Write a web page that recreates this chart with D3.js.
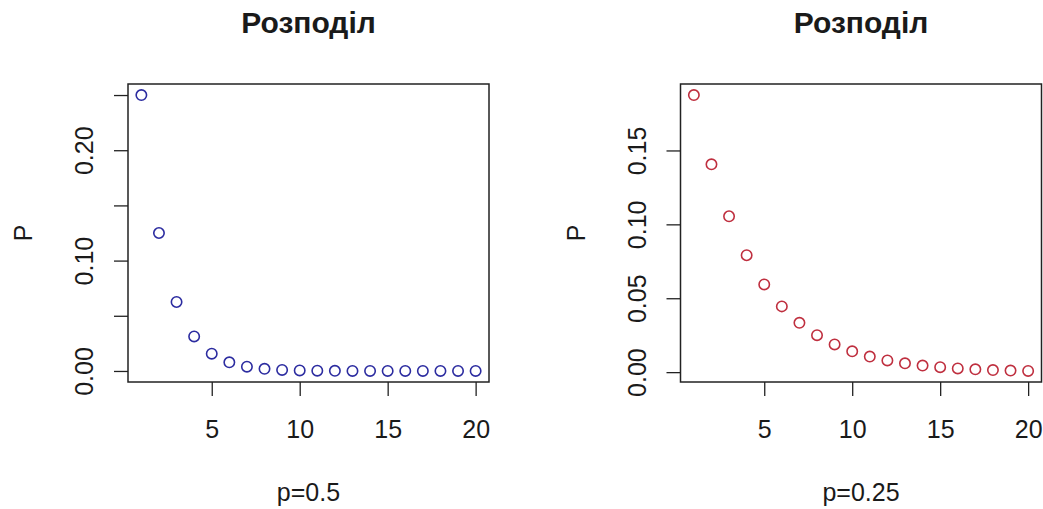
<!DOCTYPE html>
<html>
<head>
<meta charset="utf-8">
<script src="https://cdn.jsdelivr.net/npm/d3@7"></script>
<style>
  body { margin: 0; background: #fff; }
  text { font-family: "Liberation Sans", Arial, sans-serif; fill: #1a1a1a; }
</style>
</head>
<body>
<div id="chart"></div>
<script>
// Data
const k = [1, 2, 3, 4, 5, 6, 7, 8, 9, 10, 11, 12, 13, 14, 15, 16, 17, 18, 19, 20];
const pHalf = [0.25, 0.125, 0.0625, 0.03125, 0.015625, 0.0078125, 0.00390625, 0.001953125,
    0.0009765625, 0.00048828125, 0.000244140625, 0.0001220703125, 0.00006103515625,
    0.000030517578125, 0.0000152587890625, 0.00000762939453125, 0.000003814697265625,
    0.0000019073486328125, 0.00000095367431640625, 0.000000476837158203125];
const pQuarter = [0.1875, 0.140625, 0.10546875, 0.0791015625, 0.059326171875, 0.04449462890625,
    0.0333709716796875, 0.025028228759765625, 0.018771171569824219, 0.014078378677368164,
    0.010558784008026123, 0.0079190880060195923, 0.0059393160045146942, 0.0044544870033860207,
    0.0033408652525395155, 0.0025056489394046366, 0.0018792367045534775, 0.0014094275284151081,
    0.0010570706463113311, 0.00079280298473349833];
const xTicks = [5, 10, 15, 20];
const yTicksLeft = [0, 0.05, 0.10, 0.15, 0.20, 0.25];
const yLabelsLeft = ["0.00", "", "0.10", "", "0.20", ""];
const yTicksRight = [0, 0.05, 0.10, 0.15];
const yLabelsRight = ["0.00", "0.05", "0.10", "0.15"];
const titles = ["Розподіл", "Розподіл"];
const xLabels = ["p=0.5", "p=0.25"];
const colors = ["#2c2ca0", "#bf2f3f"];

const totalWidth = 1043, totalHeight = 509;
const box = { left: 128, top: 84, width: 361, height: 298 };
const panelOffsets = [0, 552.5];

const svg = d3.select("#chart")
    .append("svg")
    .attr("width", totalWidth)
    .attr("height", totalHeight);

// R style axis range: data extent padded by 4%
function padded(ext) {
    const pad = (ext[1] - ext[0]) * 0.04;
    return [ext[0] - pad, ext[1] + pad];
}

const panels = [
    { values: pHalf, yTicks: yTicksLeft, yLabels: yLabelsLeft },
    { values: pQuarter, yTicks: yTicksRight, yLabels: yLabelsRight }
];

panels.forEach(function(panel, i) {
    const g = svg.append("g")
        .attr("transform", `translate(${panelOffsets[i] + box.left},${box.top})`);

    const xScale = d3.scaleLinear()
        .domain(padded(d3.extent(k)))
        .range([0, box.width]);

    const yScale = d3.scaleLinear()
        .domain(padded(d3.extent(panel.values)))
        .range([box.height, 0]);

    // x axis
    const xAxis = g.append("g")
        .attr("transform", `translate(0,${box.height})`)
        .call(d3.axisBottom(xScale).tickValues(xTicks).tickSize(14).tickFormat(d3.format("d")));
    xAxis.select(".domain").remove();
    xAxis.selectAll("line").attr("stroke", "#222").attr("stroke-width", 1.3);
    xAxis.selectAll("text")
        .attr("y", 56)
        .attr("dy", 0)
        .style("font-size", "25px")
        .attr("fill", "#1a1a1a");

    // y axis with rotated labels
    const yAxis = g.append("g")
        .call(d3.axisLeft(yScale).tickValues(panel.yTicks).tickSize(14)
            .tickFormat((d, j) => panel.yLabels[j]));
    yAxis.select(".domain").remove();
    yAxis.selectAll("line").attr("stroke", "#222").attr("stroke-width", 1.3);
    yAxis.selectAll("text")
        .attr("transform", "rotate(-90)")
        .attr("x", 0)
        .attr("y", -35)
        .attr("dy", 0)
        .attr("text-anchor", "middle")
        .style("font-size", "25px")
        .attr("fill", "#1a1a1a");

    // frame
    g.append("rect")
        .attr("width", box.width)
        .attr("height", box.height)
        .attr("fill", "none")
        .attr("stroke", "#222")
        .attr("stroke-width", 1.5);

    // points
    g.selectAll("circle")
        .data(panel.values)
        .enter()
        .append("circle")
        .attr("cx", (d, j) => xScale(k[j]))
        .attr("cy", d => yScale(d))
        .attr("r", 5.2)
        .attr("fill", "none")
        .attr("stroke", colors[i])
        .attr("stroke-width", 1.6);

    // title
    g.append("text")
        .attr("x", box.width / 2)
        .attr("y", 33 - box.top)
        .attr("text-anchor", "middle")
        .style("font-size", "30px")
        .style("font-weight", "bold")
        .text(titles[i]);

    // x label
    g.append("text")
        .attr("x", box.width / 2)
        .attr("y", 501 - box.top)
        .attr("text-anchor", "middle")
        .style("font-size", "25px")
        .text(xLabels[i]);

    // y label
    g.append("text")
        .attr("transform", "rotate(-90)")
        .attr("x", -box.height / 2)
        .attr("y", -96)
        .attr("text-anchor", "middle")
        .style("font-size", "25px")
        .text("P");
});
</script>
</body>
</html>
